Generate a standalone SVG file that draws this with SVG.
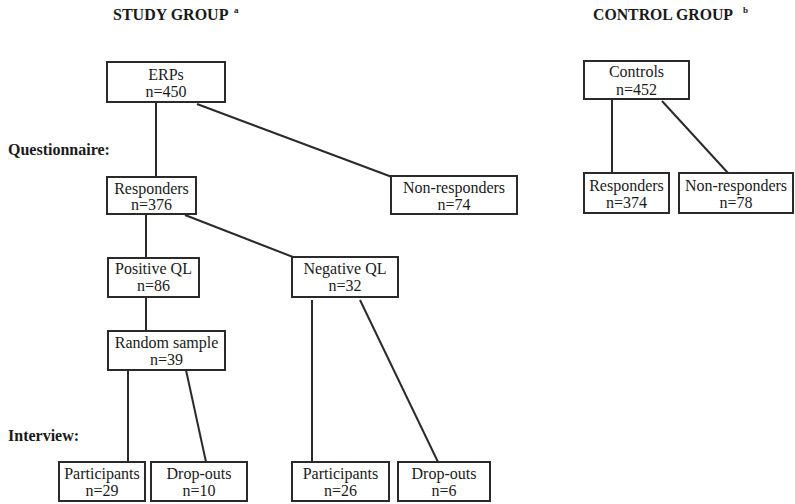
<svg xmlns="http://www.w3.org/2000/svg" width="795" height="504" viewBox="0 0 795 504">
<style>
.box{fill:#fff;stroke:#2a2a2a;stroke-width:2}
.t{font-family:"Liberation Serif","Times New Roman",serif;font-size:16px;fill:#1a1a1a;text-anchor:middle}
.h{font-family:"Liberation Serif","Times New Roman",serif;font-size:15.5px;font-weight:bold;fill:#1a1a1a}
.sup{font-family:"Liberation Serif","Times New Roman",serif;font-size:9px;font-weight:bold;fill:#1a1a1a}
.c line{stroke:#2a2a2a;stroke-width:2}
</style>
<rect width="795" height="504" fill="#fff"/>
<text class="h" x="113" y="20" style="font-size:16px">STUDY GROUP</text><text class="sup" x="234" y="13">a</text>
<text class="h" x="593" y="20" style="font-size:15.8px">CONTROL GROUP</text><text class="sup" x="743" y="13">b</text>
<text class="h" x="8" y="155" style="font-size:16px">Questionnaire:</text>
<text class="h" x="8" y="441" style="font-size:16px">Interview:</text>
<g class="c" id="connectors">
<line x1="156" y1="102" x2="156" y2="177"/>
<line x1="197" y1="104" x2="392" y2="177"/>
<line x1="146" y1="214" x2="146" y2="258"/>
<line x1="185" y1="215" x2="293" y2="257"/>
<line x1="146" y1="297" x2="146" y2="331"/>
<line x1="128" y1="370" x2="128" y2="462"/>
<line x1="186" y1="370" x2="206" y2="462"/>
<line x1="312" y1="300" x2="312" y2="462"/>
<line x1="360" y1="300" x2="438" y2="462"/>
<line x1="612" y1="99" x2="612" y2="173"/>
<line x1="662" y1="101" x2="728" y2="173"/>
</g>
<g id="erps"><rect class="box" x="107" y="62" width="118" height="40"/><text class="t" x="166" y="80">ERPs</text><text class="t" x="166" y="97">n=450</text></g>
<g id="controls"><rect class="box" x="584" y="61" width="105" height="38"/><text class="t" x="636.5" y="77">Controls</text><text class="t" x="636.5" y="95">n=452</text></g>
<g id="responders"><rect class="box" x="107" y="177" width="89" height="37"/><text class="t" x="151.5" y="194">Responders</text><text class="t" x="151.5" y="210">n=376</text></g>
<g id="nonresponders"><rect class="box" x="391" y="176" width="126" height="38"/><text class="t" x="454" y="193">Non-responders</text><text class="t" x="454" y="210">n=74</text></g>
<g id="c-responders"><rect class="box" x="584" y="173" width="85" height="40"/><text class="t" x="626.5" y="191">Responders</text><text class="t" x="626.5" y="208">n=374</text></g>
<g id="c-nonresponders"><rect class="box" x="679" y="173" width="114" height="40"/><text class="t" x="736" y="191">Non-responders</text><text class="t" x="736" y="208">n=78</text></g>
<g id="positive-ql"><rect class="box" x="108" y="258" width="91" height="39"/><text class="t" x="153.5" y="274">Positive QL</text><text class="t" x="153.5" y="291">n=86</text></g>
<g id="negative-ql"><rect class="box" x="292" y="257" width="106" height="40"/><text class="t" x="345" y="274">Negative QL</text><text class="t" x="345" y="291">n=32</text></g>
<g id="random-sample"><rect class="box" x="108" y="331" width="117" height="39"/><text class="t" x="166.5" y="348">Random sample</text><text class="t" x="166.5" y="365">n=39</text></g>
<g id="participants-1"><rect class="box" x="59" y="462" width="86" height="39"/><text class="t" x="102" y="479">Participants</text><text class="t" x="102" y="496">n=29</text></g>
<g id="dropouts-1"><rect class="box" x="151" y="462" width="96" height="39"/><text class="t" x="199" y="479">Drop-outs</text><text class="t" x="199" y="496">n=10</text></g>
<g id="participants-2"><rect class="box" x="292" y="462" width="97" height="39"/><text class="t" x="340.5" y="479">Participants</text><text class="t" x="340.5" y="496">n=26</text></g>
<g id="dropouts-2"><rect class="box" x="398" y="462" width="92" height="39"/><text class="t" x="444" y="479">Drop-outs</text><text class="t" x="444" y="496">n=6</text></g>
</svg>
